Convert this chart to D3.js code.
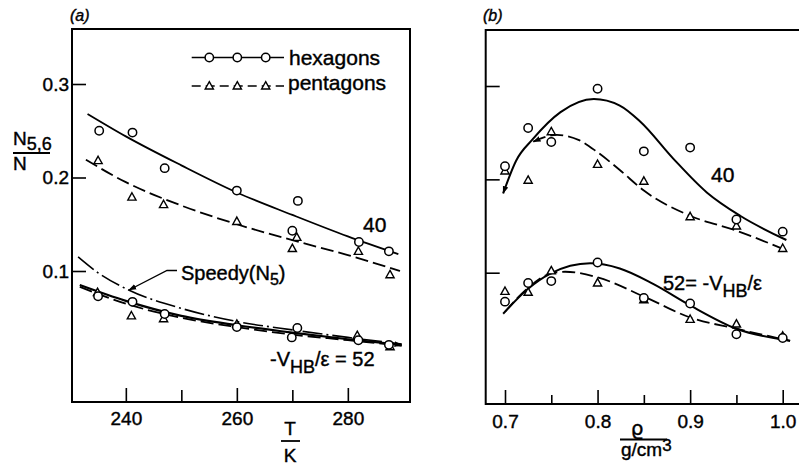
<!DOCTYPE html>
<html><head><meta charset="utf-8">
<script src="https://cdnjs.cloudflare.com/ajax/libs/d3/7.8.5/d3.min.js"></script>
<style>
body{margin:0;background:#fff}
svg{display:block}
text{font-family:"Liberation Sans",Arial,sans-serif;fill:#000;stroke:#000;stroke-width:0.4px}
</style>
</head><body>
<svg id="c" width="799" height="465"></svg>
<script>
// ---------- Panel (a) data : fraction vs temperature ----------
const tempTicks = [240, 260, 280];
const tempMinor = [250, 270];
const fracTicks = [0.1, 0.2, 0.3];

const hexT40 = [235.2, 241.2, 247, 260, 271, 270, 282, 287.4];
const hexV40 = [0.250, 0.248, 0.210, 0.186, 0.175, 0.143, 0.131, 0.121];
const penT40 = [235, 241.1, 246.8, 260, 270.8, 270, 281.9, 287.6];
const penV40 = [0.218, 0.179, 0.171, 0.153, 0.136, 0.124, 0.121, 0.096];
const hexT52 = [235, 241.2, 247, 260, 270.9, 269.9, 281.9, 287.4];
const hexV52 = [0.073, 0.067, 0.054, 0.040, 0.039, 0.029, 0.026, 0.021];
const penT52 = [234.9, 241, 246.8, 260, 281.7, 287.6];
const penV52 = [0.077, 0.052, 0.049, 0.043, 0.031, 0.019];

// fitted curves
const fitHexT40 = [233.1, 240, 250, 260, 270, 280, 289.1];
const fitHexV40 = [0.268, 0.244, 0.213, 0.184, 0.160, 0.137, 0.118];
const fitPenT40 = [232.8, 240, 250, 260, 270, 280, 289.4];
const fitPenV40 = [0.219, 0.195, 0.170, 0.150, 0.133, 0.117, 0.100];
const fitHexT52 = [231.7, 240, 250, 260, 270, 280, 289.7];
const fitHexV52 = [0.085, 0.068, 0.052, 0.042, 0.034, 0.027, 0.021];
const fitPenT52 = [231.7, 240, 250, 260, 270, 280, 289.7];
const fitPenV52 = [0.083, 0.065, 0.050, 0.040, 0.032, 0.026, 0.020];
const speedyT = [231.4, 235, 240.4, 250, 260, 270, 280, 289.7];
const speedyV = [0.115, 0.098, 0.080, 0.060, 0.046, 0.037, 0.029, 0.022];

// ---------- Panel (b) data : fraction vs density ----------
const rhoTicks = [0.7, 0.8, 0.9, 1.0];
const rhoMinor = [0.75, 0.85, 0.95];
const rhoPts = [0.7, 0.725, 0.75, 0.8, 0.85, 0.9, 0.95, 1.0];
const hexB40 = [0.214, 0.255, 0.240, 0.297, 0.230, 0.234, 0.157, 0.144];
const penB40 = [0.209, 0.199, 0.251, 0.216, 0.198, 0.160, 0.150, 0.126];
const hexB52 = [0.069, 0.089, 0.091, 0.111, 0.073, 0.067, 0.034, 0.030];
const penB52 = [0.080, 0.079, 0.102, 0.089, 0.071, 0.050, 0.045, 0.032];

const fitHexRho40 = [0.698, 0.712, 0.73, 0.76, 0.796, 0.824, 0.846, 0.882, 0.918, 0.954, 1.004];
const fitHexB40   = [0.185, 0.220, 0.243, 0.272, 0.286, 0.279, 0.262, 0.222, 0.186, 0.161, 0.135];
const fitPenRho40 = [0.7306, 0.756, 0.78, 0.8, 0.824, 0.85, 0.9, 0.95, 1.004];
const fitPenB40   = [0.2404, 0.2476, 0.242, 0.229, 0.210, 0.188, 0.161, 0.145, 0.124];
const fitHexRho52 = [0.698, 0.724, 0.749, 0.792, 0.824, 0.86, 0.9, 0.95, 1.008];
const fitHexB52   = [0.056, 0.082, 0.099, 0.110, 0.1045, 0.088, 0.065, 0.040, 0.027];
const fitPenRho52 = [0.70, 0.724, 0.749, 0.765, 0.8, 0.85, 0.9, 0.95, 1.008];
const fitPenB52   = [0.058, 0.083, 0.099, 0.101, 0.095, 0.0745, 0.052, 0.040, 0.027];

// ---------------------------------------------------------------
const svg = d3.select("#c");
svg.append("rect").attr("width", 799).attr("height", 465).attr("fill", "#fff");

const defs = svg.append("defs");
defs.append("marker").attr("id", "arr").attr("viewBox", "0 0 10 10")
  .attr("refX", 9).attr("refY", 5).attr("markerWidth", 8).attr("markerHeight", 8)
  .attr("markerUnits", "userSpaceOnUse").attr("orient", "auto-start-reverse")
  .append("path").attr("d", "M0,1.5 L10,5 L0,8.5 Z").attr("fill", "#000");

const xa = d3.scaleLinear().domain([230.3, 291.2]).range([72, 410]);
const ya = d3.scaleLinear().domain([0, 0.3]).range([364.5, 84]);
const xb = d3.scaleLinear().domain([0.7, 1.0]).range([505, 782.7]);
const yb = d3.scaleLinear().domain([0.1, 0.3]).range([272.7, 86]);

const FS = 19;
function styleAxis(g) {
  g.select(".domain").remove();
  g.selectAll(".tick line").attr("stroke", "#000").attr("stroke-width", 1.6);
  g.selectAll(".tick text").attr("font-size", FS).attr("font-family", "Liberation Sans, Arial, sans-serif").attr("fill", "#000");
}

// ---- frames
svg.append("rect").attr("x", 72).attr("y", 29).attr("width", 338).attr("height", 373)
  .attr("fill", "none").attr("stroke", "#000").attr("stroke-width", 2);
svg.append("path").attr("d", "M810,30 H485.7 V404 H810")
  .attr("fill", "none").attr("stroke", "#000").attr("stroke-width", 2);

// ---- axes (a)
svg.append("g").attr("transform", "translate(72,0)")
  .call(d3.axisLeft(ya).tickValues(fracTicks).tickSize(-14).tickPadding(3).tickFormat(d3.format(".1f")))
  .call(styleAxis);
svg.append("g").attr("transform", "translate(0,402)")
  .call(d3.axisBottom(xa).tickValues(tempTicks).tickSize(-14).tickPadding(10).tickFormat(d3.format("d")))
  .call(styleAxis);
svg.append("g").attr("transform", "translate(0,402)")
  .call(d3.axisBottom(xa).tickValues(tempMinor).tickSize(-12).tickFormat(""))
  .call(styleAxis);

// ---- axes (b)
svg.append("g").attr("transform", "translate(485.7,0)")
  .call(d3.axisLeft(yb).tickValues(fracTicks).tickSize(-14).tickFormat(""))
  .call(styleAxis);
svg.append("g").attr("transform", "translate(0,404)")
  .call(d3.axisBottom(xb).tickValues(rhoTicks).tickSize(-14).tickPadding(11).tickFormat(d3.format(".1f")))
  .call(styleAxis);
svg.append("g").attr("transform", "translate(0,404)")
  .call(d3.axisBottom(xb).tickValues(rhoMinor).tickSize(-9).tickFormat(""))
  .call(styleAxis);

// ---- curve helpers
function curve(xs, ys, xsc, ysc, dash, opts = {}) {
  const line = d3.line().x(d => xsc(d[0])).y(d => ysc(d[1])).curve(d3.curveMonotoneX);
  const p = svg.append("path").attr("d", line(d3.zip(xs, ys)))
    .attr("fill", "none").attr("stroke", "#000").attr("stroke-width", opts.w || 1.8)
    .attr("stroke-dasharray", dash || null);
  if (opts.start) p.attr("marker-start", "url(#arr)");
  if (opts.end) p.attr("marker-end", "url(#arr)");
  return p;
}
const DASH = "13,5";
const DASHDOT = "20,4,2,4";

function circles(xs, ys, xsc, ysc) {
  svg.append("g").selectAll("circle").data(d3.zip(xs, ys)).join("circle")
    .attr("cx", d => xsc(d[0])).attr("cy", d => ysc(d[1])).attr("r", 4.2)
    .attr("fill", "#fff").attr("stroke", "#000").attr("stroke-width", 1.5);
}
const triPath = "M0,-4.4 L4.1,3 L-4.1,3 Z";
function triangles(xs, ys, xsc, ysc) {
  svg.append("g").selectAll("path").data(d3.zip(xs, ys)).join("path")
    .attr("transform", d => `translate(${xsc(d[0])},${ysc(d[1])})`).attr("d", triPath)
    .attr("fill", "#fff").attr("stroke", "#000").attr("stroke-width", 1.4);
}

// ---- panel (a) curves
curve(fitHexT40, fitHexV40, xa, ya, null);
curve(fitPenT40, fitPenV40, xa, ya, DASH);
curve(speedyT, speedyV, xa, ya, DASHDOT, {w: 1.6});
curve(fitPenT52, fitPenV52, xa, ya, DASH);
curve(fitHexT52, fitHexV52, xa, ya, null, {w: 2.2, end: true});
triangles(penT40, penV40, xa, ya);
circles(hexT40, hexV40, xa, ya);
triangles(penT52, penV52, xa, ya);
circles(hexT52, hexV52, xa, ya);

// ---- panel (b) curves
curve(fitHexRho40, fitHexB40, xb, yb, null, {w: 2, start: true});
curve(fitPenRho40, fitPenB40, xb, yb, DASH, {start: true});
curve(fitHexRho52, fitHexB52, xb, yb, null, {w: 2});
curve(fitPenRho52, fitPenB52, xb, yb, DASH);
triangles(rhoPts, penB40, xb, yb);
circles(rhoPts, hexB40, xb, yb);
triangles(rhoPts, penB52, xb, yb);
circles(rhoPts, hexB52, xb, yb);

// ---- legend
const legX = [191.7, 284];
const legMk = [209.3, 237.3, 265.7];
svg.append("line").attr("x1", legX[0]).attr("x2", legX[1]).attr("y1", 57.5).attr("y2", 57.5)
  .attr("stroke", "#000").attr("stroke-width", 1.6);
svg.append("line").attr("x1", legX[0]).attr("x2", legX[1]).attr("y1", 86).attr("y2", 86)
  .attr("stroke", "#000").attr("stroke-width", 1.6).attr("stroke-dasharray", "9,5");
svg.append("g").selectAll("circle").data(legMk).join("circle")
  .attr("cx", d => d).attr("cy", 57.5).attr("r", 4.2)
  .attr("fill", "#fff").attr("stroke", "#000").attr("stroke-width", 1.5);
svg.append("g").selectAll("path").data(legMk).join("path")
  .attr("transform", d => `translate(${d},86)`).attr("d", triPath)
  .attr("fill", "#fff").attr("stroke", "#000").attr("stroke-width", 1.4);
svg.append("text").attr("x", 289).attr("y", 65).attr("font-size", 21).text("hexagons");
svg.append("text").attr("x", 288).attr("y", 90).attr("font-size", 21).text("pentagons");

// ---- panel labels
svg.append("text").attr("x", 70).attr("y", 21).attr("font-size", 16).attr("font-style", "italic").text("(a)");
svg.append("text").attr("x", 483).attr("y", 21).attr("font-size", 16).attr("font-style", "italic").text("(b)");

// ---- annotations (a)
svg.append("text").attr("x", 363).attr("y", 232).attr("font-size", 21).text("40");
const sp = svg.append("text").attr("x", 181).attr("y", 280).attr("font-size", 20);
sp.append("tspan").text("Speedy(N");
sp.append("tspan").attr("dy", 5).attr("font-size", 16).text("5");
sp.append("tspan").attr("dy", -5).text(")");
svg.append("path").attr("d", "M177,270.5 L167,270.5 L129,290")
  .attr("fill", "none").attr("stroke", "#000").attr("stroke-width", 1.4).attr("marker-end", "url(#arr)");
const vh = svg.append("text").attr("x", 270).attr("y", 366).attr("font-size", 20);
vh.append("tspan").text("-V");
vh.append("tspan").attr("dy", 7).attr("font-size", 18).text("HB");
vh.append("tspan").attr("dy", -7).text("/\u03b5 =  52");

// ---- annotations (b)
svg.append("text").attr("x", 711).attr("y", 182).attr("font-size", 21).text("40");
const vb = svg.append("text").attr("x", 663).attr("y", 290).attr("font-size", 20);
vb.append("tspan").text("52= -V");
vb.append("tspan").attr("dy", 7).attr("font-size", 18).text("HB");
vb.append("tspan").attr("dy", -7).text("/\u03b5");

// ---- axis titles
const yl = svg.append("text").attr("x", 13).attr("y", 145).attr("font-size", 19);
yl.append("tspan").text("N");
yl.append("tspan").attr("dy", 5).attr("font-size", 18).text("5,6");
svg.append("line").attr("x1", 13).attr("x2", 50).attr("y1", 153).attr("y2", 153).attr("stroke", "#000").attr("stroke-width", 1.8);
svg.append("text").attr("x", 13).attr("y", 170).attr("font-size", 19).text("N");

svg.append("text").attr("x", 290).attr("y", 435).attr("font-size", 19).attr("text-anchor", "middle").text("T");
svg.append("line").attr("x1", 281).attr("x2", 300).attr("y1", 441).attr("y2", 441).attr("stroke", "#000").attr("stroke-width", 1.8);
svg.append("text").attr("x", 290).attr("y", 462).attr("font-size", 19).attr("text-anchor", "middle").text("K");

svg.append("text").attr("x", 637).attr("y", 435).attr("font-size", 20).attr("text-anchor", "middle")
  .style("font-family", "DejaVu Sans, sans-serif").text("\u03f1");
svg.append("line").attr("x1", 620).attr("x2", 667).attr("y1", 439.5).attr("y2", 439.5).attr("stroke", "#000").attr("stroke-width", 1.8);
const gc = svg.append("text").attr("x", 621).attr("y", 456).attr("font-size", 19);
gc.append("tspan").text("g/cm");
gc.append("tspan").attr("dy", -5).attr("font-size", 17).text("3");
</script>
</body></html>
